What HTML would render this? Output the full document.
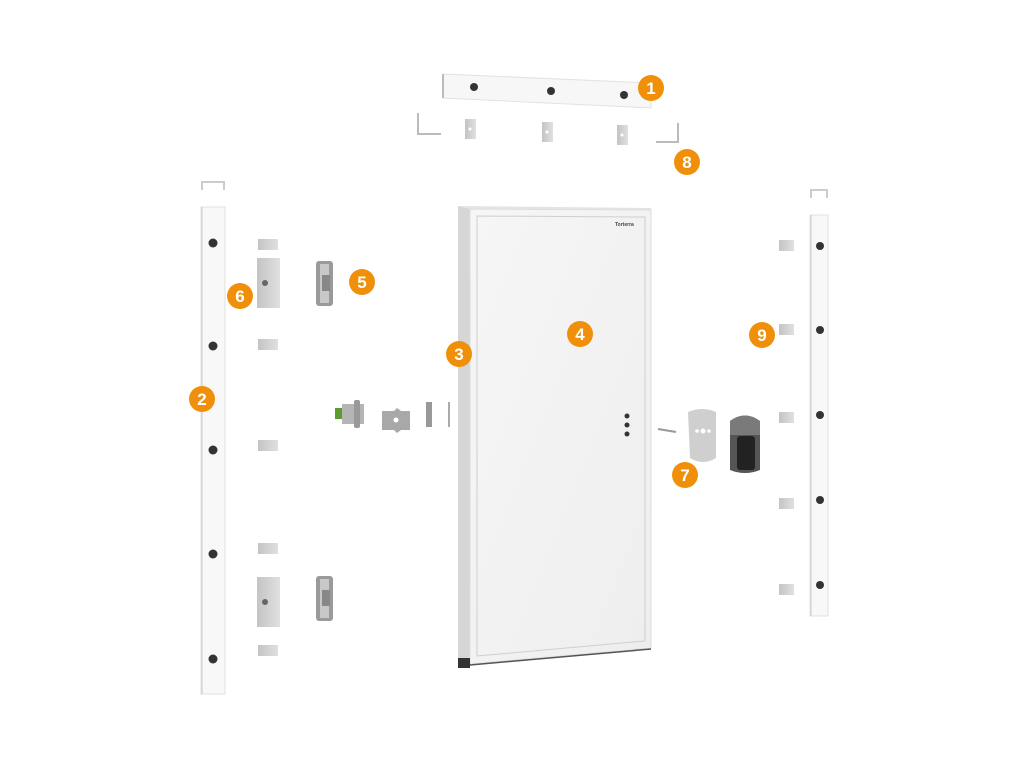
<!DOCTYPE html>
<html><head><style>body{margin:0;background:#fff}svg{display:block}</style></head><body>
<svg width="1024" height="768" viewBox="0 0 1024 768" xmlns="http://www.w3.org/2000/svg" font-family="Liberation Sans, sans-serif">
<defs>
<linearGradient id="door" x1="0" y1="0" x2="1" y2="1"><stop offset="0" stop-color="#f6f6f6"/><stop offset="1" stop-color="#eeeeee"/></linearGradient>
<linearGradient id="met" x1="0" y1="0" x2="1" y2="0"><stop offset="0" stop-color="#c4c4c4"/><stop offset="1" stop-color="#e0e0e0"/></linearGradient>
</defs>
<!-- top bar -->
<polygon points="443,74 651,83 651,108 443,98" fill="#f7f7f7" stroke="#e2e2e2"/>
<line x1="443" y1="74" x2="443" y2="98" stroke="#bbb" stroke-width="2"/>
<circle cx="474" cy="87" r="4" fill="#333"/><circle cx="551" cy="91" r="4" fill="#333"/><circle cx="624" cy="95" r="4" fill="#333"/>
<!-- brackets row -->
<path d="M418,113 L418,134 L441,134" fill="none" stroke="#bbb" stroke-width="2"/>
<path d="M678,123 L678,142 L656,142" fill="none" stroke="#bbb" stroke-width="2"/>
<rect x="465" y="119" width="11" height="20" fill="url(#met)"/><circle cx="470" cy="129" r="1.5" fill="#fff"/>
<rect x="542" y="122" width="11" height="20" fill="url(#met)"/><circle cx="547" cy="132" r="1.5" fill="#fff"/>
<rect x="617" y="125" width="11" height="20" fill="url(#met)"/><circle cx="622" cy="135" r="1.5" fill="#fff"/>
<!-- left post -->
<path d="M202,190 L202,182 L224,182 L224,190" fill="none" stroke="#ccc" stroke-width="2"/>
<rect x="201" y="207" width="24" height="487" fill="#f8f8f8" stroke="#e0e0e0"/>
<line x1="202" y1="207" x2="202" y2="694" stroke="#ccc"/>
<g fill="#333"><circle cx="213" cy="243" r="4.5"/><circle cx="213" cy="346" r="4.5"/><circle cx="213" cy="450" r="4.5"/><circle cx="213" cy="554" r="4.5"/><circle cx="213" cy="659" r="4.5"/></g>
<!-- left plates -->
<g fill="url(#met)">
<rect x="258" y="239" width="20" height="11"/><rect x="258" y="339" width="20" height="11"/><rect x="258" y="440" width="20" height="11"/><rect x="258" y="543" width="20" height="11"/><rect x="258" y="645" width="20" height="11"/>
<rect x="257" y="258" width="23" height="50"/><rect x="257" y="577" width="23" height="50"/>
</g>
<circle cx="265" cy="283" r="3" fill="#666"/><circle cx="265" cy="602" r="3" fill="#666"/>
<!-- hinges -->
<g><rect x="316" y="261" width="17" height="45" rx="3" fill="#9a9a9a"/><rect x="320" y="264" width="9" height="39" fill="#c8c8c8"/><rect x="322" y="275" width="8" height="16" fill="#888"/></g>
<g><rect x="316" y="576" width="17" height="45" rx="3" fill="#9a9a9a"/><rect x="320" y="579" width="9" height="39" fill="#c8c8c8"/><rect x="322" y="590" width="8" height="16" fill="#888"/></g>
<!-- lock parts -->
<rect x="335" y="408" width="7" height="11" fill="#5a9d2e"/>
<rect x="342" y="404" width="22" height="20" fill="#b5b5b5"/><rect x="354" y="400" width="6" height="28" rx="2" fill="#999"/>
<path d="M382,411 L394,411 L397,408 L401,411 L410,411 L410,430 L401,430 L397,433 L394,430 L382,430Z" fill="#a8a8a8"/><circle cx="396" cy="420" r="2.5" fill="#fff"/>
<rect x="426" y="402" width="6" height="25" fill="#999"/>
<line x1="449" y1="402" x2="449" y2="427" stroke="#aaa" stroke-width="2"/>
<!-- door -->
<polygon points="458,206 651,208 651,648 458,665" fill="#e4e4e4"/>
<polygon points="458,206 470,209 470,664 458,665" fill="#d6d6d6"/>
<polygon points="470,209 651,210 651,648 470,664" fill="url(#door)" stroke="#ddd"/>
<polygon points="477,216 645,217 645,641 477,656" fill="none" stroke="#cfcfcf"/>
<polygon points="458,658 470,658 470,668 458,668" fill="#333"/>
<line x1="470" y1="665" x2="651" y2="649" stroke="#555" stroke-width="1.5"/>
<text x="615" y="226" font-size="5" font-weight="bold" fill="#444">Torterra</text>
<g fill="#333"><circle cx="627" cy="416" r="2.5"/><circle cx="627" cy="425" r="2.5"/><circle cx="627" cy="434" r="2.5"/></g>
<!-- handle parts -->
<line x1="658" y1="429" x2="676" y2="432" stroke="#999" stroke-width="2"/>
<path d="M688,412 Q702,406 716,412 L716,458 Q703,466 690,458Z" fill="#cfcfcf"/>
<g fill="#fff"><circle cx="697" cy="431" r="1.8"/><circle cx="703" cy="431" r="2.5"/><circle cx="709" cy="431" r="1.8"/></g>
<path d="M730,421 Q745,410 760,421 L760,470 Q745,476 730,470Z" fill="#555"/>
<path d="M730,421 Q745,410 760,421 L760,435 L730,435Z" fill="#7a7a7a"/>
<rect x="737" y="436" width="18" height="34" rx="3" fill="#222"/>
<!-- right post -->
<path d="M811,198 L811,190 L827,190 L827,198" fill="none" stroke="#ccc" stroke-width="2"/>
<rect x="810" y="215" width="18" height="401" fill="#f8f8f8" stroke="#e0e0e0"/>
<line x1="811" y1="215" x2="811" y2="616" stroke="#ccc"/>
<g fill="#333"><circle cx="820" cy="246" r="4"/><circle cx="820" cy="330" r="4"/><circle cx="820" cy="415" r="4"/><circle cx="820" cy="500" r="4"/><circle cx="820" cy="585" r="4"/></g>
<g fill="url(#met)"><rect x="779" y="240" width="15" height="11"/><rect x="779" y="324" width="15" height="11"/><rect x="779" y="412" width="15" height="11"/><rect x="779" y="498" width="15" height="11"/><rect x="779" y="584" width="15" height="11"/></g>
<!-- badges -->
<g fill="#f0900a">
<circle cx="651" cy="88" r="13"/><circle cx="687" cy="162" r="13"/><circle cx="240" cy="296" r="13"/><circle cx="362" cy="282" r="13"/><circle cx="459" cy="354" r="13"/><circle cx="580" cy="334" r="13"/><circle cx="202" cy="399" r="13"/><circle cx="762" cy="335" r="13"/><circle cx="685" cy="475" r="13"/>
</g>
<g fill="#fff" font-size="17" font-weight="bold" text-anchor="middle">
<text x="651" y="94">1</text><text x="687" y="168">8</text><text x="240" y="302">6</text><text x="362" y="288">5</text><text x="459" y="360">3</text><text x="580" y="340">4</text><text x="202" y="405">2</text><text x="762" y="341">9</text><text x="685" y="481">7</text>
</g>
</svg>
</body></html>
